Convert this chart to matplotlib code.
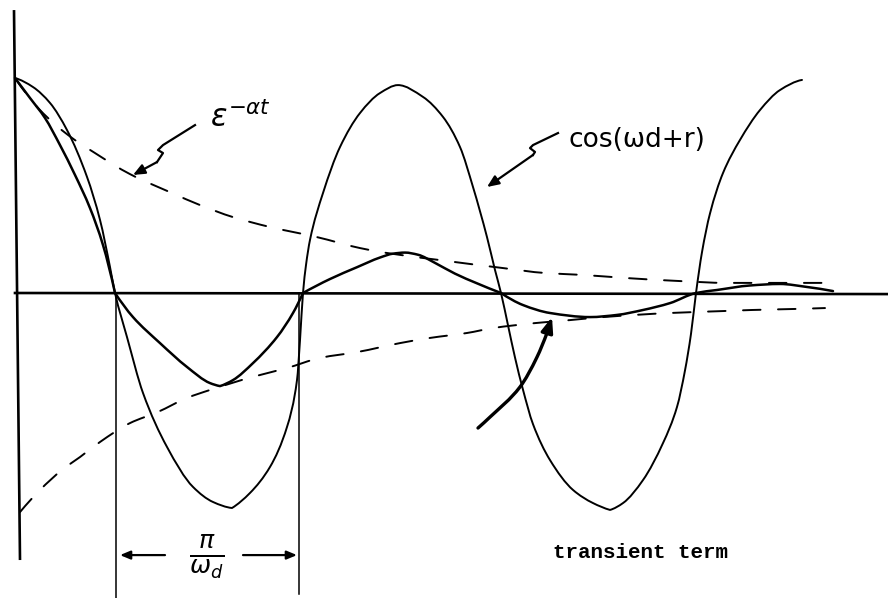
import matplotlib
matplotlib.use("Agg")
import matplotlib.pyplot as plt
from matplotlib.path import Path
from matplotlib.patches import PathPatch

# Time axis in arbitrary units, amplitude normalised to the starting value 1.0
cos_t = [0, 18, 35, 52, 72, 85, 95, 100, 112, 128, 152, 178, 198, 217, 235, 255,
         272, 282, 285, 288, 291, 295, 308, 325, 345, 365, 383, 408, 428, 445, 458,
         472, 480, 486, 493, 500, 508, 518, 535, 558, 578, 595, 608, 628, 648, 662,
         670, 676, 681, 687, 695, 708, 725, 745, 765, 787]
cos_y = [1.000, 0.958, 0.884, 0.758, 0.540, 0.340, 0.121, 0.0, -0.205, -0.465,
         -0.716, -0.902, -0.972, -1.000, -0.930, -0.809, -0.623, -0.405, -0.220,
         0.0, 0.130, 0.247, 0.465, 0.679, 0.837, 0.930, 0.967, 0.912, 0.819, 0.679,
         0.493, 0.260, 0.107, 0.0, -0.150, -0.300, -0.450, -0.610, -0.777, -0.916,
         -0.977, -1.009, -0.977, -0.870, -0.698, -0.530, -0.360, -0.190, 0.0, 0.190,
         0.370, 0.558, 0.712, 0.851, 0.944, 0.991]
cos_corners = [13, 41]              # hand-drawn pointed troughs

trans_t = [0, 15, 30, 45, 60, 75, 88, 100, 118, 145, 172, 195, 205, 218, 238, 262,
           278, 288, 315, 342, 365, 378, 390, 403, 420, 440, 462, 486, 508, 535,
           575, 602, 628, 655, 681, 702, 735, 765, 792, 818]
trans_y = [1.000, 0.907, 0.814, 0.688, 0.549, 0.395, 0.223, 0.0, -0.112, -0.233,
           -0.344, -0.419, -0.433, -0.405, -0.326, -0.205, -0.093, 0.0, 0.065,
           0.120, 0.165, 0.183, 0.188, 0.178, 0.140, 0.090, 0.045, 0.0, -0.056,
           -0.093, -0.112, -0.102, -0.079, -0.047, 0.0, 0.014, 0.035, 0.042, 0.028,
           0.009]
trans_corners = [7, 12, 17, 27]     # kinks where the product meets the axis

env_up_t = [0, 25, 53, 80, 115, 157, 185, 218, 255, 302, 345, 372, 425, 488, 530,
            568, 610, 663, 712, 778, 810]
env_up_y = [1.000, 0.851, 0.735, 0.651, 0.553, 0.465, 0.409, 0.353, 0.307, 0.260,
            0.209, 0.186, 0.153, 0.116, 0.093, 0.084, 0.070, 0.056, 0.047, 0.047,
            0.047]

env_lo_t = [5, 25, 47, 65, 85, 115, 143, 172, 195, 237, 272, 305, 343, 385, 415,
            452, 478, 520, 555, 588, 655, 708, 737, 782, 810]
env_lo_y = [-1.019, -0.916, -0.823, -0.763, -0.693, -0.605, -0.553, -0.488, -0.451,
            -0.391, -0.349, -0.302, -0.274, -0.233, -0.209, -0.186, -0.163, -0.140,
            -0.126, -0.112, -0.093, -0.084, -0.079, -0.074, -0.070]

# Half period marked below the axis (between the two drop lines)
half_start, half_end = 101, 284

label_env = r'$\epsilon^{-\alpha t}$'
label_cos = 'cos(ωd+r)'
label_trans = 'transient term'
label_half = r'$\frac{\pi}{\omega_d}$'

ink = 'black'


def _sign(v):
    return (v > 0) - (v < 0)


def _end_slope(h0, h1, d0, d1):
    m = ((2 * h0 + h1) * d0 - h0 * d1) / (h0 + h1)
    if _sign(m) != _sign(d0):
        return 0.0
    if _sign(d0) != _sign(d1) and abs(m) > 3 * abs(d0):
        return 3 * d0
    return m


def _shape_slopes(x, y):
    """Shape-preserving (monotone cubic) tangents at each point."""
    n = len(x)
    h = [x[i + 1] - x[i] for i in range(n - 1)]
    d = [(y[i + 1] - y[i]) / h[i] for i in range(n - 1)]
    if n == 2:
        return [d[0], d[0]]
    m = [0.0] * n
    for i in range(1, n - 1):
        if d[i - 1] * d[i] > 0:
            w1 = 2 * h[i] + h[i - 1]
            w2 = h[i] + 2 * h[i - 1]
            m[i] = (w1 + w2) / (w1 / d[i - 1] + w2 / d[i])
    m[0] = _end_slope(h[0], h[1], d[0], d[1])
    m[-1] = _end_slope(h[-1], h[-2], d[-1], d[-2])
    return m


def smooth_path(xs, ys, corners=()):
    """Cubic Bezier path through the points; tangents break at the corners."""
    bounds = [0] + sorted(corners) + [len(xs) - 1]
    verts = [(xs[0], ys[0])]
    codes = [Path.MOVETO]
    for a, b in zip(bounds[:-1], bounds[1:]):
        x = xs[a:b + 1]
        y = ys[a:b + 1]
        m = _shape_slopes(x, y)
        for i in range(len(x) - 1):
            h = x[i + 1] - x[i]
            verts += [(x[i] + h / 3, y[i] + m[i] * h / 3),
                      (x[i + 1] - h / 3, y[i + 1] - m[i + 1] * h / 3),
                      (x[i + 1], y[i + 1])]
            codes += [Path.CURVE4] * 3
    return Path(verts, codes)


def draw_curve(ax, xs, ys, corners=(), **kw):
    ax.add_patch(PathPatch(smooth_path(xs, ys, corners), fill=False,
                           capstyle='round', joinstyle='round', **kw))


fig = plt.figure(figsize=(8.88, 5.98), dpi=100)
ax = fig.add_axes([0, 0, 1, 1])
ax.set_xlim(-15, 873)
ax.set_ylim(-1.4186, 1.3628)
ax.axis('off')

# coordinate axes
ax.plot([-1, 5], [1.316, -1.242], color=ink, lw=1.9, solid_capstyle='butt')
ax.plot([0, 873], [0.0, -0.005], color=ink, lw=1.9)

# drop lines marking the half period
ax.plot([half_start, half_start], [0.0, -1.42], color=ink, lw=1.1)
ax.plot([half_end, half_end], [0.0, -1.40], color=ink, lw=1.1)

# curves
draw_curve(ax, cos_t, cos_y, cos_corners, edgecolor=ink, lw=1.4)
draw_curve(ax, trans_t, trans_y, trans_corners, edgecolor=ink, lw=1.8)
draw_curve(ax, env_up_t, env_up_y, edgecolor=ink, lw=1.4, linestyle=(0, (9, 9)))
draw_curve(ax, env_lo_t, env_lo_y, edgecolor=ink, lw=1.4, linestyle=(0, (9, 9)))

arrow_kw = dict(arrowstyle='-|>,head_length=0.7,head_width=0.3', color=ink,
                lw=1.6, shrinkA=0, shrinkB=0)

# leader for the envelope label
env_lead_t = [180, 148, 143, 148, 142, 118]
env_lead_y = [0.781, 0.688, 0.665, 0.651, 0.609, 0.549]
ax.plot(env_lead_t[:-1], env_lead_y[:-1], color=ink, lw=1.6)
ax.annotate('', xy=(env_lead_t[-1], env_lead_y[-1]),
            xytext=(env_lead_t[-2], env_lead_y[-2]), arrowprops=arrow_kw)
ax.text(195, 0.772, label_env, fontsize=22, ha='left', va='baseline')

# leader for the cosine label
cos_lead_t = [543, 518, 515, 520, 518, 472]
cos_lead_y = [0.744, 0.688, 0.674, 0.656, 0.642, 0.493]
ax.plot(cos_lead_t[:-1], cos_lead_y[:-1], color=ink, lw=1.6)
ax.annotate('', xy=(cos_lead_t[-1], cos_lead_y[-1]),
            xytext=(cos_lead_t[-2], cos_lead_y[-2]), arrowprops=arrow_kw)
ax.text(553, 0.712, label_cos, fontsize=19, ha='left', va='center')

# leader for the transient label
tr_lead_t = [463, 475, 505, 522, 532, 537]
tr_lead_y = [-0.628, -0.577, -0.437, -0.298, -0.186, -0.112]
draw_curve(ax, tr_lead_t[:-1], tr_lead_y[:-1], edgecolor=ink, lw=2.4)
ax.annotate('', xy=(tr_lead_t[-1], tr_lead_y[-1]),
            xytext=(tr_lead_t[-2], tr_lead_y[-2]),
            arrowprops=dict(arrowstyle='-|>,head_length=0.9,head_width=0.35',
                            color=ink, lw=2.4, shrinkA=0, shrinkB=0))
ax.text(625, -1.209, label_trans, fontsize=15, family='Liberation Mono',
        fontweight='bold', ha='center', va='center')

# half-period dimension
dim_kw = dict(arrowstyle='-|>,head_length=0.6,head_width=0.25', color=ink,
              lw=1.6, shrinkA=0, shrinkB=0)
ax.annotate('', xy=(half_start + 4, -1.219), xytext=(150, -1.219), arrowprops=dim_kw)
ax.annotate('', xy=(half_end - 2, -1.219), xytext=(228, -1.219), arrowprops=dim_kw)
ax.text(192, -1.223, label_half, fontsize=26, ha='center', va='center')

fig.savefig('out.png', dpi=100, facecolor='white')
